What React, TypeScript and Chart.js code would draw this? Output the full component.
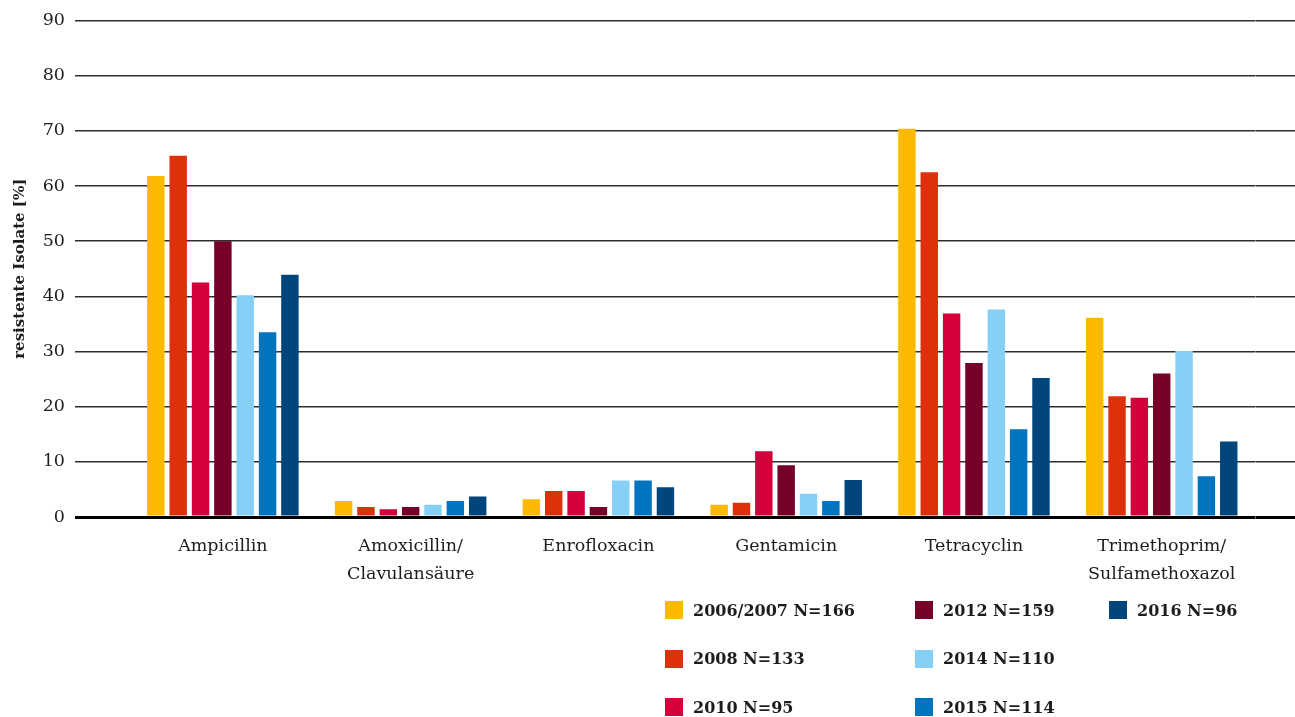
import React, { useEffect, useRef } from "react";
import { Chart, registerables } from "chart.js";

Chart.register(...registerables);

// ---- Data ----
const categories: string[][] = [
  ["Ampicillin"],
  ["Amoxicillin/", "Clavulansäure"],
  ["Enrofloxacin"],
  ["Gentamicin"],
  ["Tetracyclin"],
  ["Trimethoprim/", "Sulfamethoxazol"],
];

const seriesLabels = [
  "2006/2007 N=166",
  "2008 N=133",
  "2010 N=95",
  "2012 N=159",
  "2014 N=110",
  "2015 N=114",
  "2016 N=96",
];

const seriesColors = [
  "#FBBA00",
  "#DE300A",
  "#D3003A",
  "#75002A",
  "#86D0F5",
  "#0074BE",
  "#00457B",
];

const values2006 = [61.8, 2.9, 3.2, 2.2, 70.4, 36.1];
const values2008 = [65.5, 1.8, 4.7, 2.6, 62.5, 21.9];
const values2010 = [42.5, 1.4, 4.7, 11.9, 36.9, 21.6];
const values2012 = [50.0, 1.8, 1.8, 9.4, 27.9, 26.0];
const values2014 = [40.2, 2.2, 6.6, 4.2, 37.6, 30.1];
const values2015 = [33.5, 2.9, 6.6, 2.9, 15.9, 7.4];
const values2016 = [43.9, 3.7, 5.4, 6.7, 25.2, 13.7];

const seriesValues = [
  values2006,
  values2008,
  values2010,
  values2012,
  values2014,
  values2015,
  values2016,
];

const yMin = 0;
const yMax = 90;
const yStep = 10;
const yTitle = "resistente Isolate [%]";

const FONT = "'DejaVu Serif', serif";
const TEXT = "#1d1d1b";

export default function App() {
  const canvasRef = useRef<HTMLCanvasElement | null>(null);

  useEffect(() => {
    document.body.style.margin = "0";
    const canvas = canvasRef.current;
    if (!canvas) return;

    const gridWidth = (ctx: any) => (ctx.tick && ctx.tick.value === 0 ? 3 : 1.6);
    const gridColor = (ctx: any) => (ctx.tick && ctx.tick.value === 0 ? "#000000" : "#2e2e2e");

    const chart = new Chart(canvas, {
      type: "bar",
      data: {
        labels: categories,
        datasets: seriesLabels.map((label, i) => ({
          label,
          data: seriesValues[i],
          backgroundColor: seriesColors[i],
          borderWidth: 0,
          categoryPercentage: 0.833,
          barPercentage: 0.78,
        })),
      },
      options: {
        animation: false,
        responsive: false,
        maintainAspectRatio: false,
        layout: { padding: { top: 19, left: 0, right: 0, bottom: 0 } },
        plugins: {
          legend: { display: false },
          tooltip: { enabled: false },
        },
        scales: {
          x: {
            grid: { display: false, drawTicks: false },
            border: { display: false },
            ticks: {
              color: TEXT,
              font: { family: FONT, size: 17.5, lineHeight: 1.6 },
              padding: 15,
              maxRotation: 0,
              autoSkip: false,
            },
            afterFit: (scale: any) => {
              scale.height = 200;
            },
          },
          y: {
            position: "left",
            min: yMin,
            max: yMax,
            grid: {
              color: gridColor,
              lineWidth: gridWidth,
              tickLength: 54,
              drawTicks: true,
            },
            border: { display: false },
            ticks: {
              stepSize: yStep,
              color: TEXT,
              font: { family: FONT, size: 17.5 },
              padding: 10,
            },
            title: {
              display: true,
              text: yTitle,
              color: TEXT,
              font: { family: FONT, size: 15, weight: "bold" },
              padding: { top: 11, bottom: 0 },
            },
            afterFit: (scale: any) => {
              scale.width = 129;
            },
          },
          y2: {
            position: "right",
            min: yMin,
            max: yMax,
            grid: {
              color: gridColor,
              lineWidth: gridWidth,
              tickLength: 40,
              drawTicks: true,
              drawOnChartArea: false,
            },
            border: { display: false },
            ticks: { stepSize: yStep, display: false },
            afterFit: (scale: any) => {
              scale.width = 39.4;
            },
          },
        },
      },
    });

    return () => {
      chart.destroy();
    };
  }, []);

  return (
    <div style={{ position: "relative", width: 1295, height: 717, overflow: "hidden", background: "#fff" }}>
      <canvas ref={canvasRef} width={1295} height={717} style={{ display: "block" }} />
      <div
        style={{
          position: "absolute",
          left: 665,
          top: 586,
          display: "grid",
          gridAutoFlow: "column",
          gridTemplateRows: "48.5px 48.5px 48.5px",
          gridTemplateColumns: "250px 194px auto",
          fontFamily: FONT,
          fontWeight: "bold",
          fontSize: 16,
          color: TEXT,
        }}
      >
        {seriesLabels.map((label, i) => (
          <div key={label} style={{ display: "flex", alignItems: "center", whiteSpace: "nowrap" }}>
            <span
              style={{
                display: "inline-block",
                width: 18,
                height: 18,
                background: seriesColors[i],
                marginRight: 10,
                flex: "none",
              }}
            />
            <span>{label}</span>
          </div>
        ))}
      </div>
    </div>
  );
}
